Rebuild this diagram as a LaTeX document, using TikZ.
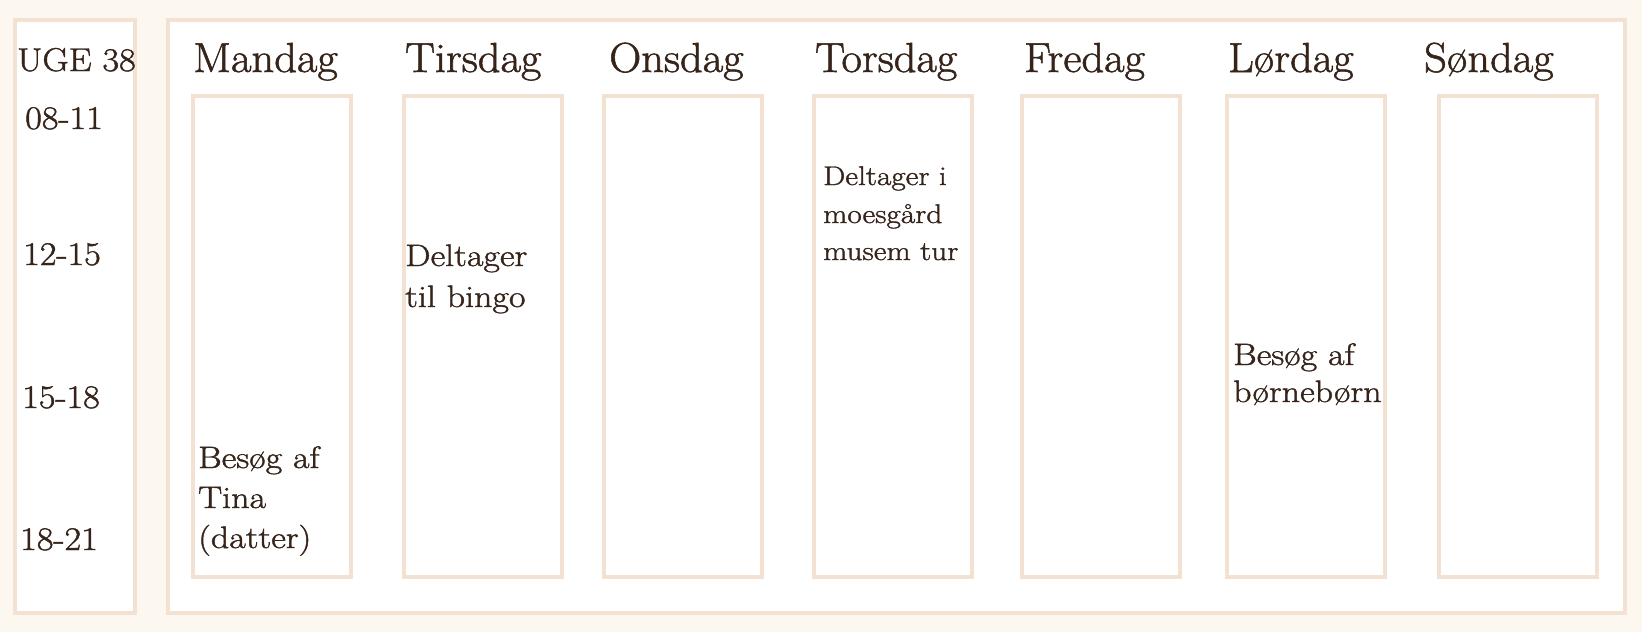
\documentclass[tikz,border=0pt]{standalone}
\usepackage{fontspec}
\newfontfamily\inkfont{Latin Modern Roman}[FakeBold=1.3,FakeStretch=1.1]
\newfontfamily\headfont{Latin Modern Roman}[FakeBold=1.3,FakeStretch=1.06]
\newfontfamily\notefont{Latin Modern Roman}[FakeBold=1.3,FakeStretch=1.16]
\definecolor{bgcream}{HTML}{FCF8F0}
\definecolor{framec}{HTML}{F3E2D1}
\definecolor{inkc}{HTML}{36241A}
\begin{document}
\begin{tikzpicture}[x=1pt,y=-1pt,
  panel/.style={draw=framec,line width=4pt,fill=white},
  daybox/.style={draw=framec,line width=4pt,fill=white},
  txt/.style={anchor=base west,inner sep=0pt,text=inkc},
  dayname/.style={txt,font=\headfont\fontsize{42}{50}\selectfont},
  timel/.style={txt,font=\inkfont\fontsize{33}{40}\selectfont},
  entry/.style={txt,font=\notefont\fontsize{31}{38}\selectfont},
  entrysmall/.style={txt,font=\notefont\fontsize{27}{32}\selectfont}]
\fill[bgcream] (0,0) rectangle (1642,632);
\useasboundingbox (0,0) rectangle (1642,632);
% panels
\draw[panel] (14.5,20) rectangle (135,613);
\draw[panel] (168,20) rectangle (1625,613);
% day boxes
\foreach \xl in {193,403.5,604,813.5,1022,1226.5,1438.5}{
  \draw[daybox] (\xl,96) rectangle ++(158,481);
}
% week and times
\node[timel] (uge) at (17,71) {UGE 38};
\node[timel] (t1) at (25,129) {08-11};
\node[timel] (t2) at (23,265) {12-15};
\node[timel] (t3) at (22,408) {15-18};
\node[timel] (t4) at (20,550) {18-21};
% day names
\node[dayname] (man) at (193,72) {Mandag};
\node[dayname] (tir) at (405,72) {Tirsdag};
\node[dayname] (ons) at (609,72) {Onsdag};
\node[dayname] (tor) at (815,72) {Torsdag};
\node[dayname] (fre) at (1024,72) {Fredag};
\node[dayname] (lor) at (1228,72) {Lørdag};
\node[dayname] (son) at (1424,72) {Søndag};
% entries
\node[entry] (m1) at (198,468) {Besøg af};
\node[entry] (m2) at (198,508) {Tina};
\node[entry] (m3) at (198,548) {(datter)};
\node[entry] (ti1) at (405,266) {Deltager};
\node[entry] (ti2) at (405,307) {til bingo};
\node[entrysmall] (to1) at (823,185) {Deltager i};
\node[entrysmall] (to2) at (823,223) {moesgård};
\node[entrysmall] (to3) at (823,260) {musem tur};
\node[entry] (l1) at (1233,365) {Besøg af};
\node[entry] (l2) at (1233,402) {børnebørn};
\end{tikzpicture}
\end{document}
